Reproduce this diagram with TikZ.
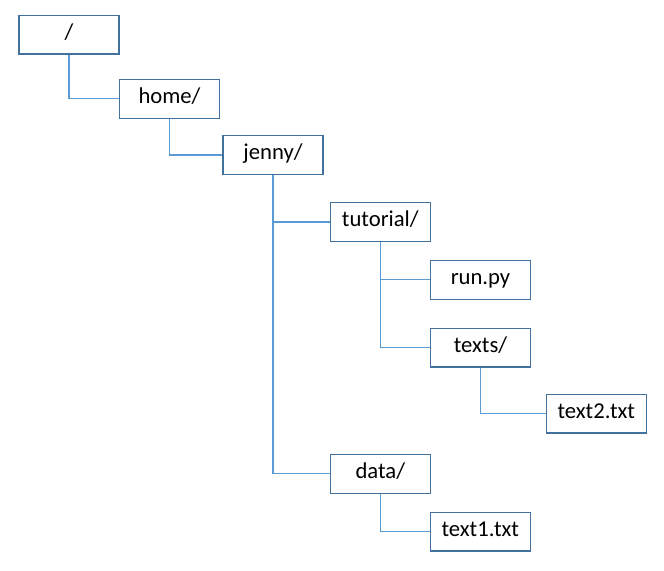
\documentclass[tikz,border=0pt]{standalone}
\usepackage{fontspec}
\setmainfont{Carlito}
\usepackage{tikz}
\definecolor{boxline}{RGB}{65, 113, 156}
\definecolor{linkline}{RGB}{91, 155, 213}

\begin{document}
\begin{tikzpicture}[x=0.75pt, y=-0.75pt,
    folder/.style={draw=boxline, line width=0.9pt, fill=white, minimum width=75pt, minimum height=29pt,
        inner sep=0pt, font=\fontsize{17}{19}\selectfont, text height=0.9em, text depth=0.16em},
    link/.style={draw=linkline, line width=0.8pt}]
\useasboundingbox (0,0) rectangle (664,571);

% Verzeichnisse und Dateien
\node[folder] (root) at (69,34.7) {/};
\node[folder] (home) at (169.5,98.8) {home/};
\node[folder] (jenny) at (273,155) {jenny/};
\node[folder] (tutorial) at (380.3,222) {tutorial/};
\node[folder] (runpy) at (480.5,279.8) {run.py};
\node[folder] (texts) at (480.5,347.7) {texts/};
\node[folder] (text2) at (596.3,413.7) {text2.txt};
\node[folder] (data) at (380.3,473.8) {data/};
\node[folder] (text1) at (480.3,531.7) {text1.txt};

% Verbindungen
\draw[link] (root.south) |- (home.west);
\draw[link] (home.south) |- (jenny.west);
\draw[link] (jenny.south) |- (tutorial.west);
\draw[link] (jenny.south) |- (data.west);
\draw[link] (tutorial.south) |- (runpy.west);
\draw[link] (tutorial.south) |- (texts.west);
\draw[link] (texts.south) |- (text2.west);
\draw[link] (data.south) |- (text1.west);
\end{tikzpicture}
\end{document}
